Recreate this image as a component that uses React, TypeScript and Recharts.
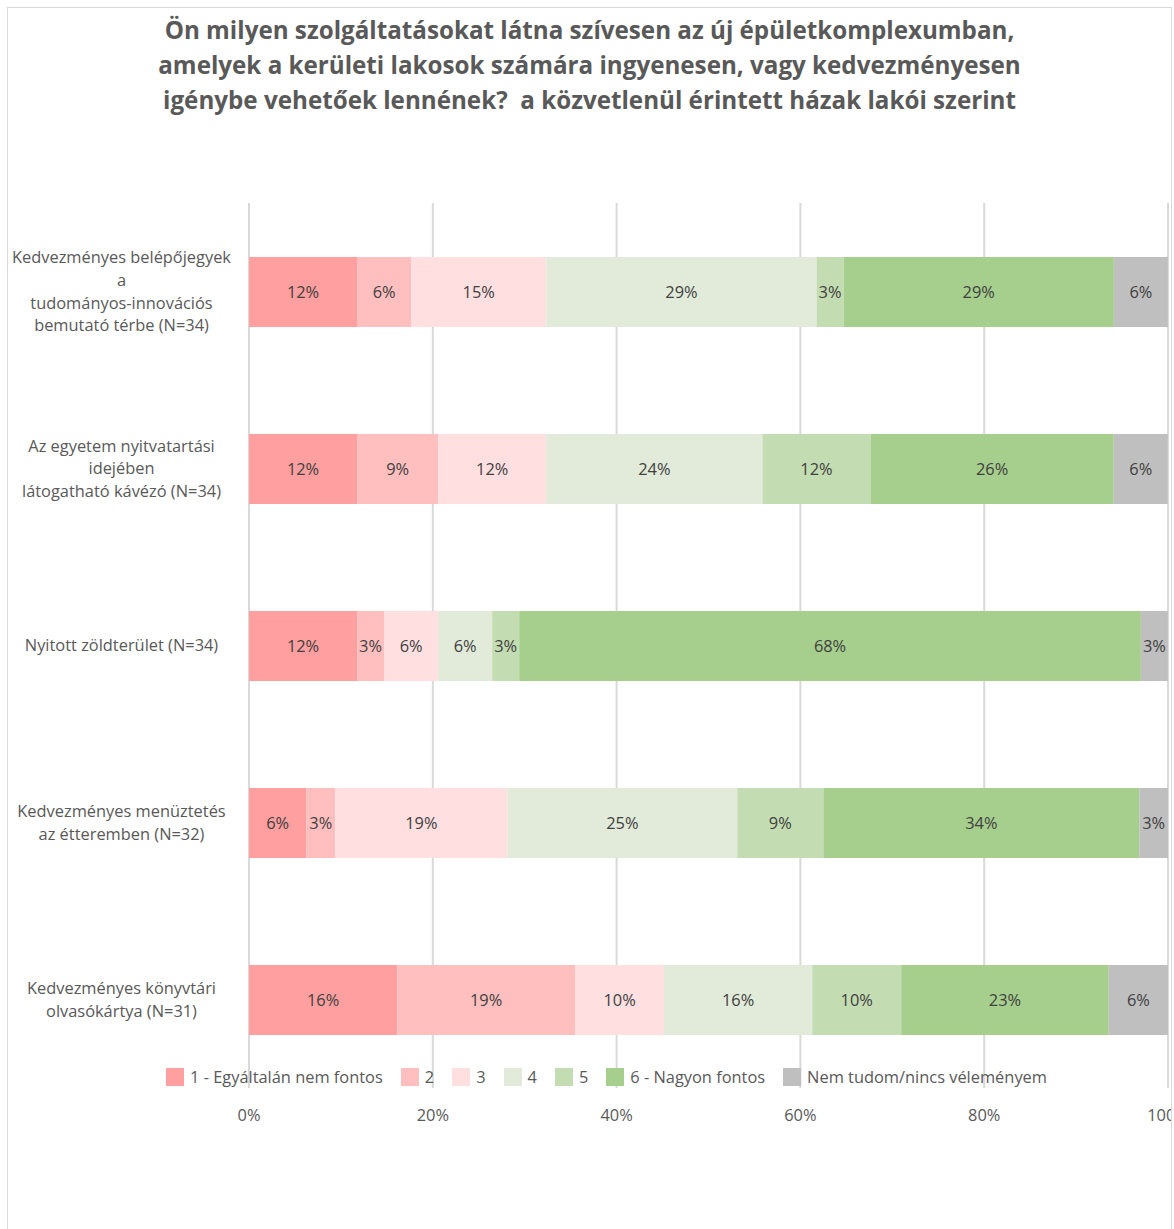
import React from "react";
import { Bar, BarChart, CartesianGrid, LabelList, Legend, XAxis, YAxis } from "recharts";

const categories = [
  "Kedvezményes belépőjegyek\na\ntudományos-innovációs\nbemutató térbe (N=34)",
  "Az egyetem nyitvatartási\nidejében\nlátogatható kávézó (N=34)",
  "Nyitott zöldterület (N=34)",
  "Kedvezményes menüztetés\naz étteremben (N=32)",
  "Kedvezményes könyvtári\nolvasókártya (N=31)",
];

const seriesNames = [
  "1 - Egyáltalán nem fontos",
  "2",
  "3",
  "4",
  "5",
  "6 - Nagyon fontos",
  "Nem tudom/nincs véleményem",
];
const seriesColors = ["#ff9f9f", "#ffbfbf", "#ffdfe0", "#e2ebd9", "#c3dcb1", "#a6ce8c", "#bfbfbf"];

// share of answers per category (%)
const answer1 = [11.76, 11.76, 11.76, 6.25, 16.13];
const answer2 = [5.88, 8.82, 2.94, 3.13, 19.35];
const answer3 = [14.71, 11.76, 5.88, 18.75, 9.68];
const answer4 = [29.41, 23.53, 5.88, 25.0, 16.13];
const answer5 = [2.94, 11.76, 2.94, 9.37, 9.68];
const answer6 = [29.41, 26.47, 67.65, 34.37, 22.58];
const noOpinion = [5.88, 5.88, 2.94, 3.13, 6.45];

const xTicks = [0, 20, 40, 60, 80, 100];

const titleLines = [
  "Ön milyen szolgáltatásokat látna szívesen az új épületkomplexumban,",
  "amelyek a kerületi lakosok számára ingyenesen, vagy kedvezményesen",
  "igénybe vehetőek lennének?  a közvetlenül érintett házak lakói szerint",
];

const seriesValues = [answer1, answer2, answer3, answer4, answer5, answer6, noOpinion];
const seriesKeys = ["s1", "s2", "s3", "s4", "s5", "s6", "s7"];

const data = categories.map((name, i) => {
  const row: Record<string, string | number> = { name };
  seriesKeys.forEach((key, k) => {
    row[key] = seriesValues[k][i];
  });
  return row;
});

const FONT = "'Open Sans', 'Noto Sans', sans-serif";
const TEXT = "#595959";

function CategoryTick(props: any) {
  const { x, y, payload } = props;
  const lines = String(payload.value).split("\n");
  const lineHeight = 22.7;
  const cx = x - 119.5;
  const startY = y - ((lines.length - 1) * lineHeight) / 2;
  return (
    <text x={cx} y={startY} textAnchor="middle" fill={TEXT} fontSize={16.4} fontFamily={FONT}>
      {lines.map((line, i) => (
        <tspan key={i} x={cx} dy={i === 0 ? "0.35em" : lineHeight}>
          {line}
        </tspan>
      ))}
    </text>
  );
}

function LegendContent(props: any) {
  const payload = props.payload || [];
  return (
    <div style={{ display: "flex", alignItems: "center", fontFamily: FONT, fontSize: 16.4, color: TEXT, whiteSpace: "nowrap" }}>
      {payload.map((entry: any) => (
        <div key={entry.value} style={{ display: "flex", alignItems: "center", marginRight: 18 }}>
          <span style={{ width: 18, height: 18, background: entry.color, marginRight: 6, display: "inline-block" }} />
          <span>{entry.value}</span>
        </div>
      ))}
    </div>
  );
}

export default function App() {
  return (
    <div
      style={{
        position: "fixed",
        left: 7,
        top: 7,
        width: 1165,
        height: 1240,
        boxSizing: "border-box",
        border: "1px solid #d9d9d9",
        overflow: "hidden",
        background: "#fff",
      }}
    >
      <div
        style={{
          position: "absolute",
          left: 0,
          top: 4,
          width: 1163,
          textAlign: "center",
          fontFamily: FONT,
          fontWeight: 700,
          fontSize: 24.2,
          lineHeight: "35px",
          color: TEXT,
          whiteSpace: "pre",
        }}
      >
        {titleLines.map((line) => (
          <div key={line}>{line}</div>
        ))}
      </div>
      <BarChart
        width={1200}
        height={1230}
        data={data}
        layout="vertical"
        margin={{ top: 195, right: 40, bottom: 110, left: 0 }}
        barSize={70}
      >
        <CartesianGrid horizontal={false} stroke="#d9d9d9" strokeWidth={2} />
        <XAxis
          type="number"
          domain={[0, 100]}
          ticks={xTicks}
          allowDataOverflow
          tickFormatter={(v: number) => `${v}%`}
          axisLine={false}
          tickLine={false}
          tickMargin={15}
          height={40}
          tick={{ fill: TEXT, fontSize: 16.4, fontFamily: FONT }}
        />
        <YAxis
          type="category"
          dataKey="name"
          width={241}
          axisLine={false}
          tickLine={false}
          interval={0}
          tick={<CategoryTick />}
        />
        <Legend
          layout="horizontal"
          verticalAlign="middle"
          align="center"
          content={<LegendContent />}
          wrapperStyle={{ top: 1057, left: 158, width: "auto" }}
        />
        {seriesKeys.map((key, k) => (
          <Bar
            key={key}
            dataKey={key}
            name={seriesNames[k]}
            stackId="a"
            fill={seriesColors[k]}
            isAnimationActive={false}
          >
            <LabelList
              dataKey={key}
              position="center"
              formatter={(v: any) => `${Math.round(Number(v))}%`}
              fill="#404040"
              fontSize={16.4}
              fontFamily={FONT}
            />
          </Bar>
        ))}
      </BarChart>
    </div>
  );
}
